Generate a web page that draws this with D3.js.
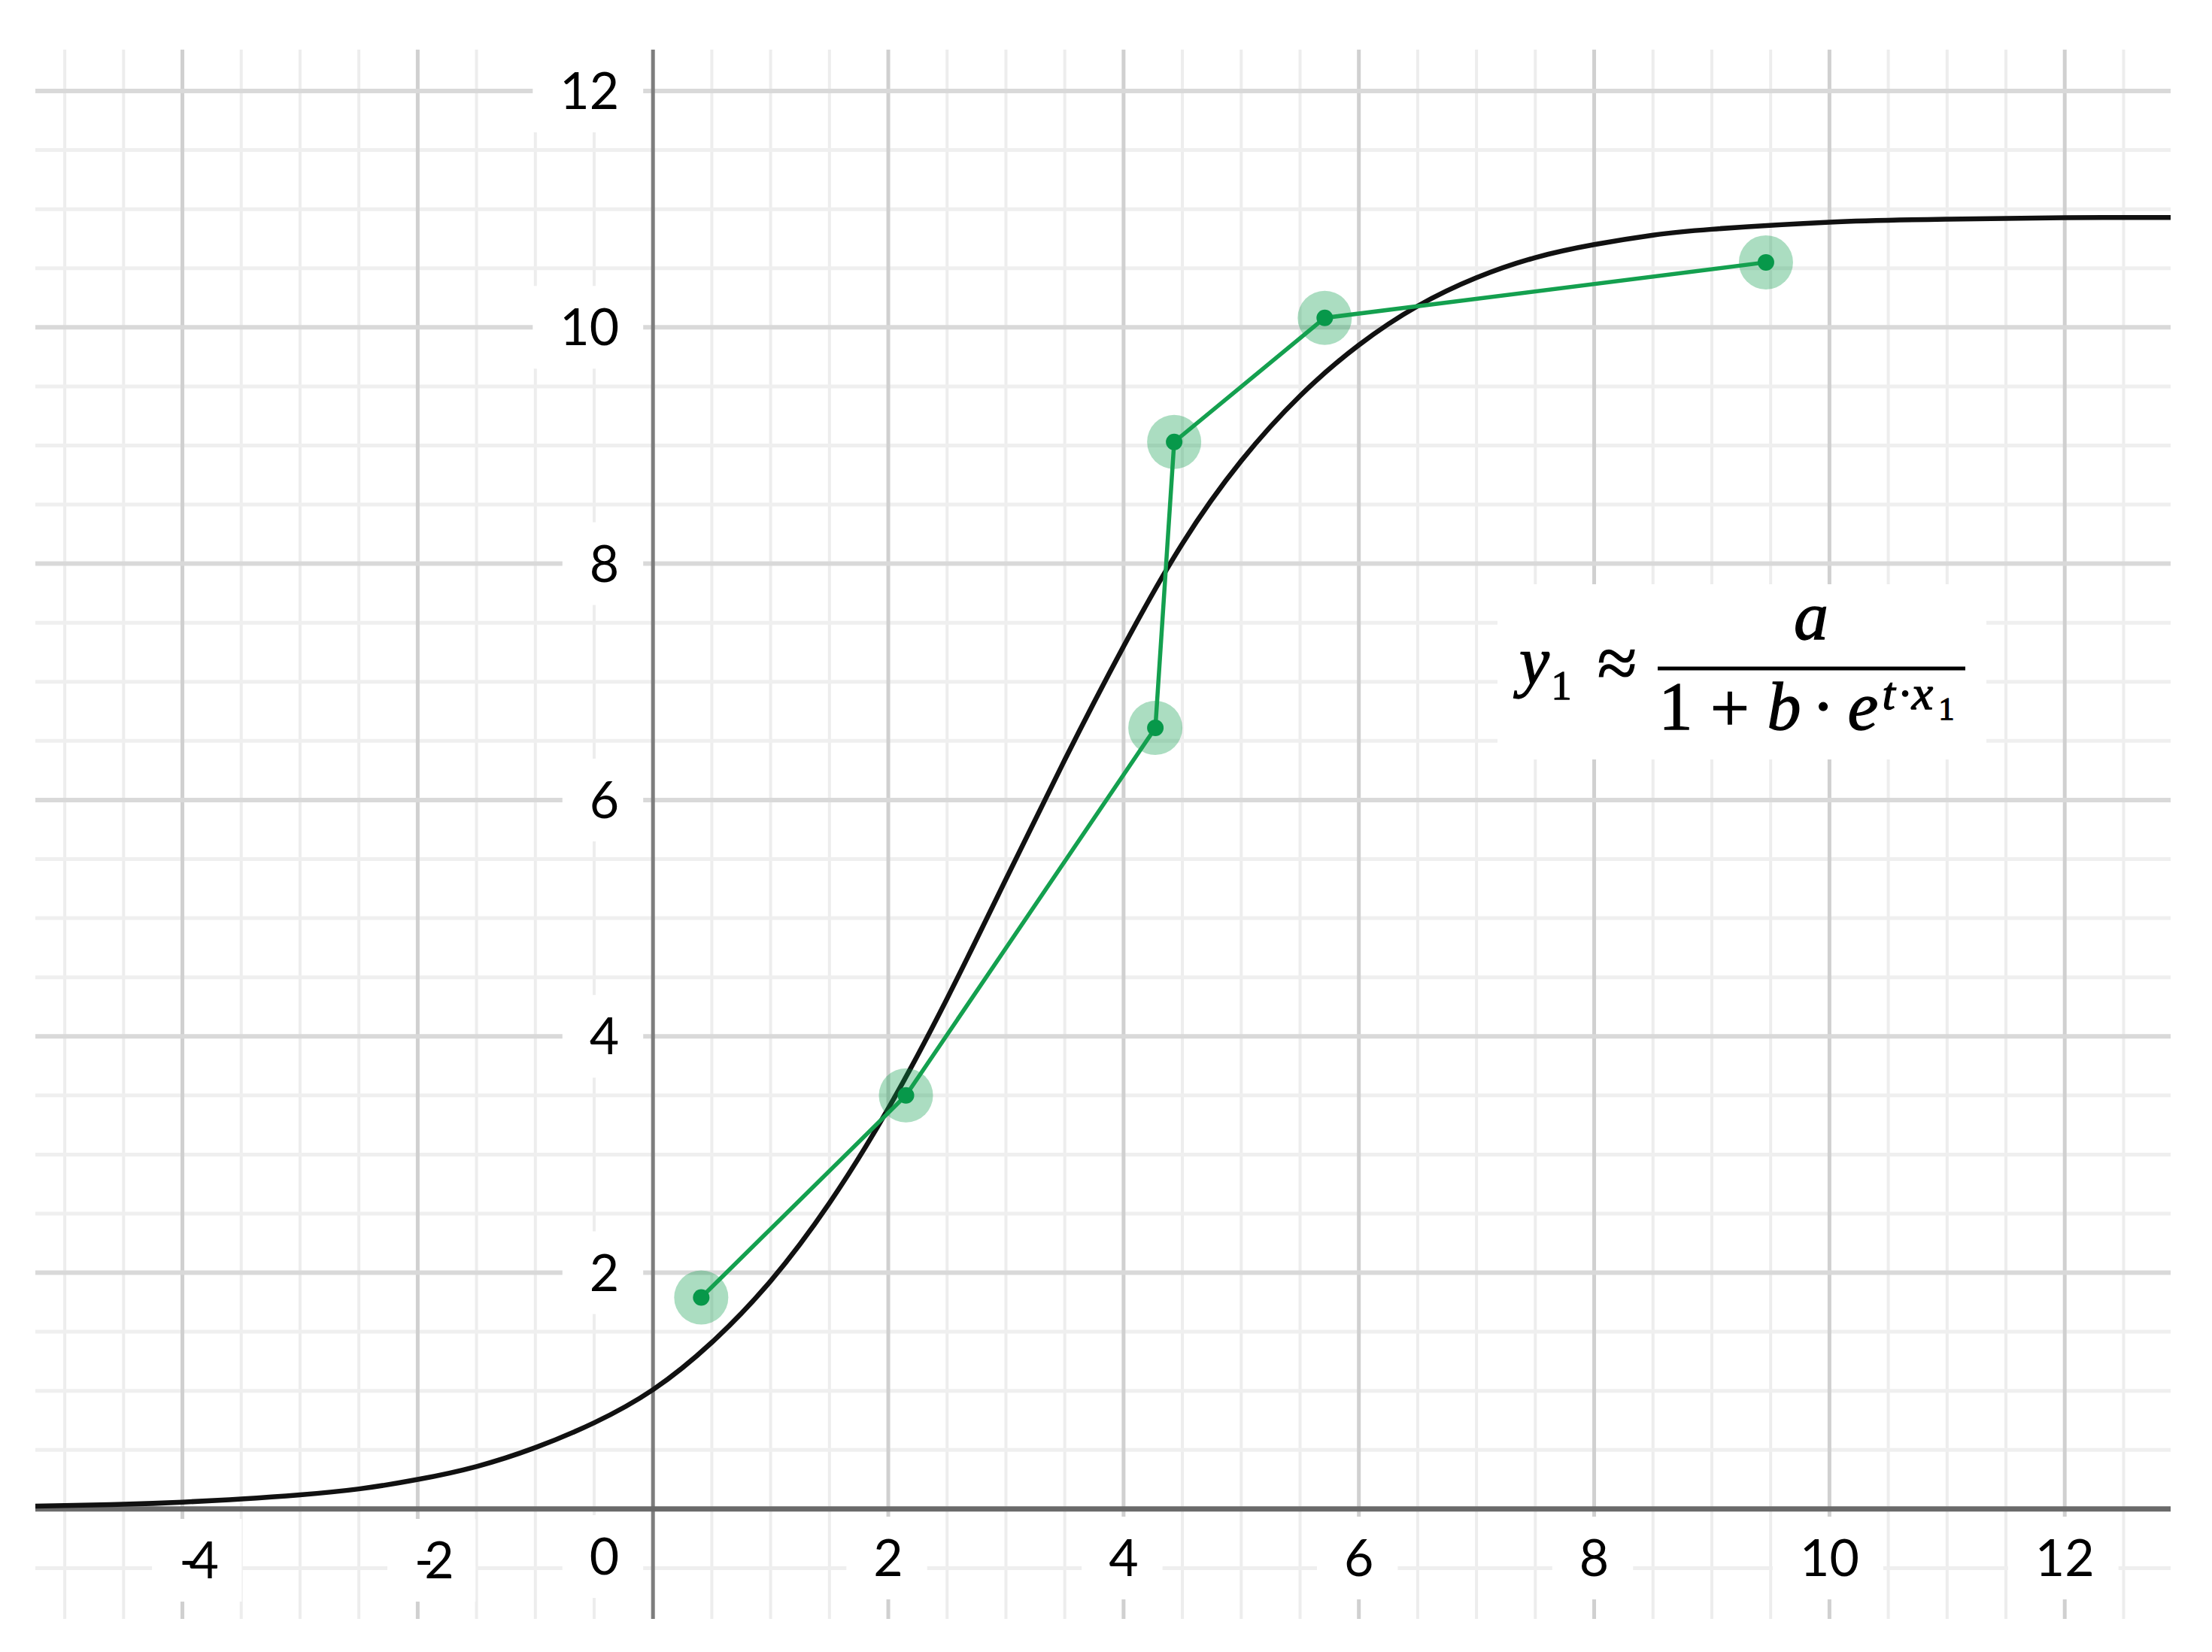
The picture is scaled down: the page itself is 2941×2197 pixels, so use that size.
<!DOCTYPE html>
<html>
<head>
<meta charset="utf-8">
<script src="https://cdn.jsdelivr.net/npm/d3@7.9.0/dist/d3.min.js"></script>
<style>
  body { margin: 0; background: #fff; }
  svg { display: block; }
  .tick-label { font-family: Lato, 'Open Sans', sans-serif; font-size: 68px; fill: #000; }
  .math { font-family: 'Liberation Serif', 'DejaVu Serif', serif; fill: #000; stroke: #000; stroke-width: 1.3px; }
</style>
</head>
<body>
<svg id="chart" width="2941" height="2197"></svg>
<script>
// logistic fit, values
const curveX = [-5.25, -5, -4.5, -4, -3.5, -3, -2.5, -2, -1.5, -1, -0.5, 0, 0.5, 1, 1.5, 2, 2.5, 3, 3.5,
  4, 4.5, 5, 5.5, 6, 6.5, 7, 7.5, 8, 8.5, 9, 10, 11, 12, 12.9];
const curveY = [0.025, 0.03, 0.04, 0.058, 0.085, 0.12, 0.17, 0.25, 0.36, 0.52, 0.73, 1.01, 1.41, 1.93, 2.59, 3.39, 4.32, 5.33, 6.34,
  7.30, 8.17, 8.87, 9.42, 9.85, 10.18, 10.42, 10.59, 10.70, 10.78, 10.83, 10.89, 10.915, 10.928, 10.93];

// observed points (green)
const pointX = [0.41, 2.15, 4.27, 4.43, 5.71, 9.46];
const pointY = [1.79, 3.50, 6.61, 9.03, 10.08, 10.55];

// axis ticks
const xTicks = [-4, -2, 0, 2, 4, 6, 8, 10, 12];
const xTickLabels = ['-4', '-2', '0', '2', '4', '6', '8', '10', '12'];
const yTicks = [2, 4, 6, 8, 10, 12];
const yTickLabels = ['2', '4', '6', '8', '10', '12'];

const svg = d3.select('#chart');

const x = d3.scaleLinear().domain([-5.25, 12.9]).range([47, 2886]);
const y = d3.scaleLinear().domain([-0.93, 12.35]).range([2153, 66]);
const [x0, x1] = x.range();
const [yb, yt] = y.range();

svg.append('rect').attr('width', 2941).attr('height', 2197).attr('fill', '#fff');

// grid: minor every 0.5, major every 2
const halfSteps = d3.range(-20, 30).map(i => i / 2);
const gx = halfSteps.filter(v => v >= x.domain()[0] && v <= x.domain()[1] && v !== 0);
const gy = halfSteps.filter(v => v >= y.domain()[0] && v <= y.domain()[1] && v !== 0);
const isMajor = v => v % 2 === 0;

const grid = svg.append('g');
grid.selectAll('.vminor').data(gx.filter(v => !isMajor(v))).join('line')
  .attr('x1', d => x(d)).attr('x2', d => x(d)).attr('y1', yt).attr('y2', yb)
  .attr('stroke', '#ededed').attr('stroke-width', 4);
grid.selectAll('.hminor').data(gy.filter(v => !isMajor(v))).join('line')
  .attr('y1', d => y(d)).attr('y2', d => y(d)).attr('x1', x0).attr('x2', x1)
  .attr('stroke', '#efefef').attr('stroke-width', 5);
grid.selectAll('.vmajor').data(gx.filter(isMajor)).join('line')
  .attr('x1', d => x(d)).attr('x2', d => x(d)).attr('y1', yt).attr('y2', yb)
  .attr('stroke', '#d0d0d0').attr('stroke-width', 5);
grid.selectAll('.hmajor').data(gy.filter(isMajor)).join('line')
  .attr('y1', d => y(d)).attr('y2', d => y(d)).attr('x1', x0).attr('x2', x1)
  .attr('stroke', '#d9d9d9').attr('stroke-width', 6);

// axes
svg.append('line').attr('x1', x(0)).attr('x2', x(0)).attr('y1', yt).attr('y2', yb)
  .attr('stroke', '#7d7d7d').attr('stroke-width', 5);
svg.append('line').attr('x1', x0).attr('x2', x1).attr('y1', y(0)).attr('y2', y(0))
  .attr('stroke', '#6a6a6a').attr('stroke-width', 7);

// tick labels on white patches
const boxes = svg.append('g');
const labels = svg.append('g');

function addLabel(txt, px, baseline, anchor, spacing) {
  const t = labels.append('text').attr('class', 'tick-label')
    .attr('x', px).attr('y', baseline).attr('text-anchor', anchor)
    .style('letter-spacing', spacing || null)
    .text(txt);
  const b = t.node().getBBox();
  boxes.append('rect')
    .attr('x', b.x - 36).attr('width', b.width + 68)
    .attr('y', baseline - 24 - 55).attr('height', 110)
    .attr('fill', '#fff');
}

xTicks.forEach((v, i) => {
  if (v === 0) {
    addLabel(xTickLabels[i], x(0) - 45, 2094, 'end');
  } else if (v < 0) {
    addLabel(xTickLabels[i], x(v) + 16, 2099, 'middle', '-12px');
  } else {
    addLabel(xTickLabels[i], x(v), 2096, 'middle');
  }
});
yTicks.forEach((v, i) => {
  addLabel(yTickLabels[i], x(0) - 45, y(v) + 24, 'end');
});

// formula
const f = svg.append('g');
f.append('rect').attr('x', 1991).attr('y', 777).attr('width', 650).attr('height', 233).attr('fill', '#fff');
function m(txt, cx, base, size, italic) {
  f.append('text').attr('class', 'math').attr('x', cx).attr('y', base)
    .attr('text-anchor', 'middle').style('font-size', size + 'px')
    .style('font-style', italic ? 'italic' : 'normal').text(txt);
}
m('y', 2040, 910, 90, true);
m('1', 2076, 930, 54, false);
m('\u2248', 2150, 914, 96, false);
f.append('line').attr('x1', 2204).attr('x2', 2613).attr('y1', 889).attr('y2', 889)
  .attr('stroke', '#000').attr('stroke-width', 5);
m('a', 2408, 850, 92, true);
m('1', 2228, 970, 90, false);
m('+', 2300, 972, 92, false);
m('b', 2372, 970, 90, true);
m('\u00b7', 2424, 970, 92, false);
m('e', 2477, 970, 92, true);
m('t', 2511, 943, 62, true);
m('\u00b7', 2533, 943, 62, false);
m('x', 2556, 943, 64, true);
m('1', 2588, 957, 42, false);

// fitted curve
const curvePts = curveX.map((v, i) => [v, curveY[i]]);
svg.append('path')
  .attr('d', d3.line().x(d => x(d[0])).y(d => y(d[1])).curve(d3.curveNatural)(curvePts))
  .attr('fill', 'none').attr('stroke', '#111').attr('stroke-width', 6.5);

// observed data
const pts = pointX.map((v, i) => [v, pointY[i]]);
svg.append('g').selectAll('circle').data(pts).join('circle')
  .attr('cx', d => x(d[0])).attr('cy', d => y(d[1])).attr('r', 36)
  .attr('fill', '#0a9b48').attr('fill-opacity', 0.34);
svg.append('path')
  .attr('d', d3.line().x(d => x(d[0])).y(d => y(d[1]))(pts))
  .attr('fill', 'none').attr('stroke', '#14a04f').attr('stroke-width', 5.5);
svg.append('g').selectAll('circle').data(pts).join('circle')
  .attr('cx', d => x(d[0])).attr('cy', d => y(d[1])).attr('r', 11)
  .attr('fill', '#07984a');
</script>
</body>
</html>
